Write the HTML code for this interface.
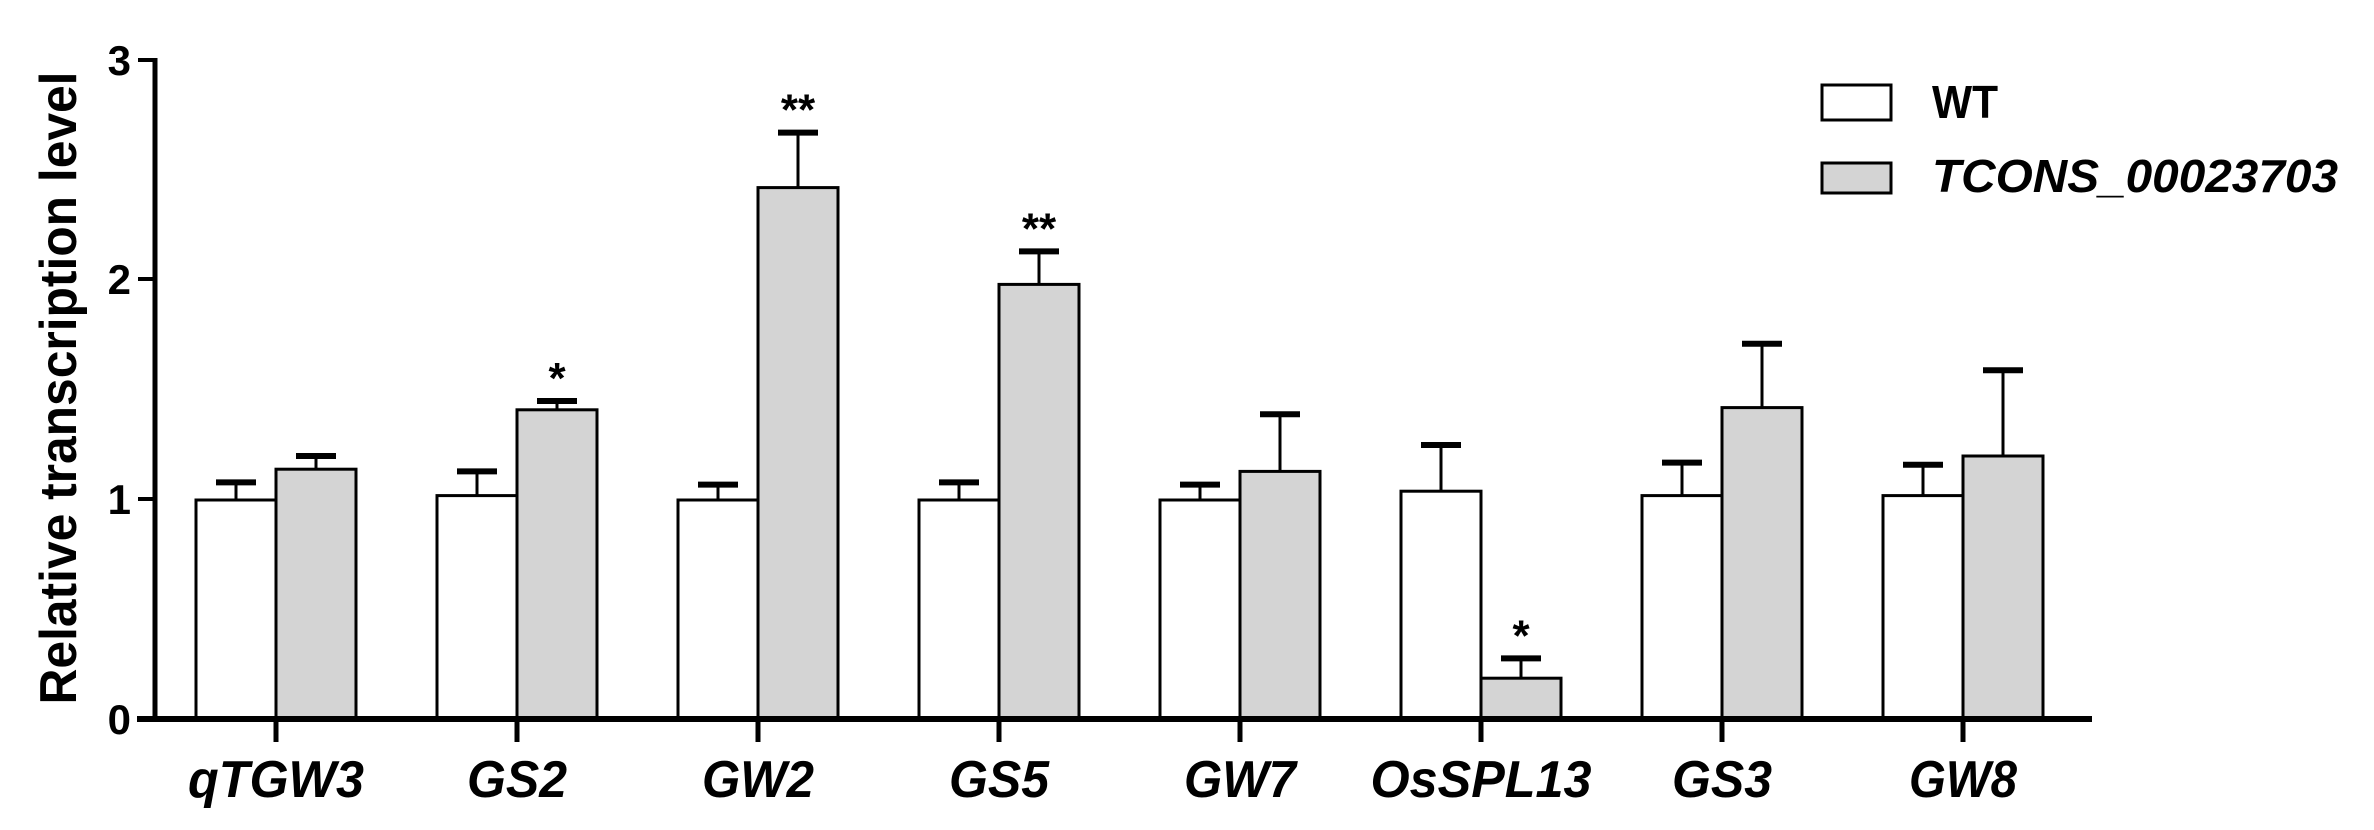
<!DOCTYPE html>
<html><head><meta charset="utf-8"><style>
html,body{margin:0;padding:0;background:#fff;}
svg{display:block;}
text{font-family:"Liberation Sans",sans-serif;font-weight:bold;fill:#000;}
</style></head><body>
<svg width="2374" height="830" viewBox="0 0 2374 830" xmlns="http://www.w3.org/2000/svg">
<g id="bars" stroke="#000" stroke-width="3"></g>
<!-- axes -->
<line x1="155" y1="58" x2="155" y2="721" stroke="#000" stroke-width="5"/>
<line x1="137" y1="719" x2="2092" y2="719" stroke="#000" stroke-width="6"/>
<g stroke="#000" stroke-width="4">
<line x1="138" y1="60" x2="155" y2="60"/>
<line x1="138" y1="279" x2="155" y2="279"/>
<line x1="138" y1="499" x2="155" y2="499"/>
</g>
<g font-size="42" text-anchor="end">
<text x="131" y="75">3</text>
<text x="131" y="294">2</text>
<text x="131" y="514">1</text>
<text x="131" y="734">0</text>
</g>
<text transform="translate(76,388) rotate(-90)" font-size="52" text-anchor="middle" textLength="633" lengthAdjust="spacingAndGlyphs">Relative transcription level</text>

<g id="xt"></g>

<!-- legend -->
<rect x="1822" y="85" width="69" height="35" fill="#fff" stroke="#000" stroke-width="3"/>
<rect x="1822" y="163" width="69" height="30" fill="#d4d4d4" stroke="#000" stroke-width="3"/>
<text x="1932" y="118" font-size="46" textLength="66" lengthAdjust="spacingAndGlyphs">WT</text>
<text x="1932" y="192" font-size="46" font-style="italic" textLength="406" lengthAdjust="spacingAndGlyphs">TCONS_00023703</text>
</svg>
<script>
var data=[
["qTGW3",1.0,1.08,1.14,1.2,"",176],
["GS2",1.02,1.13,1.41,1.45,"*",100],
["GW2",1.0,1.07,2.42,2.67,"**",112],
["GS5",1.0,1.08,1.98,2.13,"**",100],
["GW7",1.0,1.07,1.13,1.39,"",112],
["OsSPL13",1.04,1.25,0.19,0.28,"*",221],
["GS3",1.02,1.17,1.42,1.71,"",100],
["GW8",1.02,1.16,1.2,1.59,"",108]];
var y0=720,u=220,s="";
function Y(v){return y0-u*v;}
var t="";
data.forEach(function(d,i){
 var c=276+241*i;
 var w1=c-80,w2=c;
 s+='<line x1="'+(c-40)+'" y1="'+Y(d[1])+'" x2="'+(c-40)+'" y2="'+Y(d[2])+'"/>';
 s+='<line x1="'+(c-60)+'" y1="'+Y(d[2])+'" x2="'+(c-20)+'" y2="'+Y(d[2])+'" stroke-width="6"/>';
 s+='<line x1="'+(c+40)+'" y1="'+Y(d[3])+'" x2="'+(c+40)+'" y2="'+Y(d[4])+'"/>';
 s+='<line x1="'+(c+20)+'" y1="'+Y(d[4])+'" x2="'+(c+60)+'" y2="'+Y(d[4])+'" stroke-width="6"/>';
 s+='<rect x="'+w1+'" y="'+Y(d[1])+'" width="80" height="'+(u*d[1])+'" fill="#fff"/>';
 s+='<rect x="'+w2+'" y="'+Y(d[3])+'" width="80" height="'+(u*d[3])+'" fill="#d4d4d4"/>';
 s+='<line x1="'+c+'" y1="719" x2="'+c+'" y2="742" stroke-width="5"/>';
 if(d[5]) t+='<text x="'+(c+40)+'" y="'+(Y(d[4])-8)+'" font-size="44" text-anchor="middle">'+d[5]+'</text>';
 t+='<text x="'+c+'" y="797" font-size="52" font-style="italic" text-anchor="middle" textLength="'+d[6]+'" lengthAdjust="spacingAndGlyphs">'+d[0]+'</text>';
});
document.getElementById("bars").innerHTML=s;
document.getElementById("xt").innerHTML=t;
</script>
</body></html>
